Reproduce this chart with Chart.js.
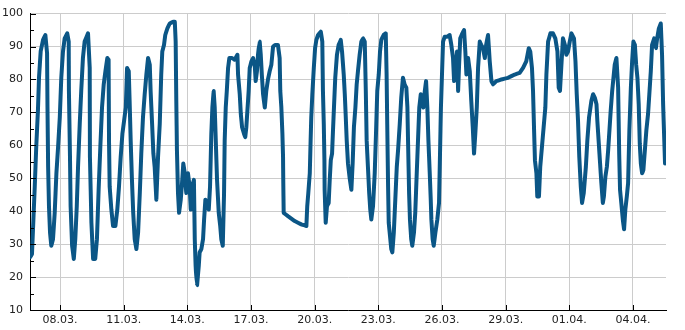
<!DOCTYPE html>
<html>
<head>
<meta charset="utf-8">
<script src="https://cdn.jsdelivr.net/npm/chart.js@4.4.1/dist/chart.umd.min.js"></script>
<style>
  body { margin: 0; background: #fff; }
  #wrap { width: 685px; height: 330px; }
</style>
</head>
<body>
<div id="wrap"><canvas id="grafico"></canvas></div>
<script>
// time in days of March (32 = 01.04.)
const days = [
  6.59, 6.68, 6.81, 6.88, 6.96, 7.01, 7.09, 7.20, 7.31, 7.39, 7.41, 7.44, 7.48, 7.53, 7.59, 7.67, 7.75, 7.83, 7.91, 7.99,
  8.06, 8.14, 8.22, 8.34, 8.41, 8.42, 8.47, 8.50, 8.57, 8.65, 8.72, 8.79, 8.85, 8.93, 9.00, 9.08, 9.16, 9.32, 9.40, 9.41,
  9.48, 9.56, 9.66, 9.74, 9.82, 9.90, 9.98, 10.06, 10.14, 10.23, 10.29, 10.31, 10.34, 10.42, 10.50, 10.61, 10.70, 10.78, 10.86, 10.94,
  11.02, 11.10, 11.16, 11.24, 11.28, 11.33, 11.39, 11.45, 11.52, 11.60, 11.68, 11.76, 11.83, 11.91, 11.99, 12.07, 12.15, 12.23, 12.27, 12.34,
  12.40, 12.46, 12.54, 12.62, 12.70, 12.77, 12.82, 12.90, 12.96, 13.06, 13.17, 13.33, 13.41, 13.45, 13.48, 13.51, 13.56, 13.61, 13.69, 13.75,
  13.81, 13.88, 13.95, 14.03, 14.11, 14.16, 14.22, 14.31, 14.35, 14.39, 14.46, 14.54, 14.58, 14.66, 14.74, 14.79, 14.85, 14.93, 15.01, 15.07,
  15.13, 15.18, 15.24, 15.29, 15.34, 15.40, 15.48, 15.55, 15.60, 15.67, 15.73, 15.76, 15.81, 15.86, 15.92, 15.98, 16.11, 16.23, 16.36, 16.39,
  16.47, 16.52, 16.58, 16.67, 16.73, 16.78, 16.83, 16.89, 16.94, 17.02, 17.10, 17.18, 17.22, 17.28, 17.33, 17.41, 17.46, 17.51, 17.57, 17.65,
  17.72, 17.80, 17.88, 17.96, 18.04, 18.15, 18.27, 18.35, 18.38, 18.43, 18.48, 18.51, 18.52, 18.54, 18.74, 19.06, 19.37, 19.61, 19.65, 19.70,
  19.77, 19.81, 19.84, 19.89, 19.96, 20.02, 20.08, 20.16, 20.29, 20.36, 20.39, 20.43, 20.46, 20.47, 20.52, 20.58, 20.66, 20.71, 20.76, 20.82,
  20.87, 20.91, 20.97, 21.05, 21.13, 21.23, 21.29, 21.37, 21.42, 21.46, 21.51, 21.57, 21.65, 21.73, 21.79, 21.85, 21.92, 21.98, 22.04, 22.12,
  22.20, 22.28, 22.36, 22.41, 22.45, 22.51, 22.57, 22.62, 22.67, 22.75, 22.83, 22.89, 22.95, 23.02, 23.08, 23.14, 23.25, 23.35, 23.39, 23.42,
  23.46, 23.49, 23.55, 23.61, 23.66, 23.73, 23.80, 23.87, 23.93, 24.01, 24.08, 24.16, 24.24, 24.32, 24.37, 24.40, 24.45, 24.49, 24.55, 24.60,
  24.68, 24.74, 24.81, 24.87, 24.93, 25.00, 25.06, 25.12, 25.19, 25.25, 25.31, 25.36, 25.42, 25.47, 25.50, 25.56, 25.61, 25.69, 25.78, 25.86,
  25.91, 25.95, 26.00, 26.05, 26.13, 26.25, 26.36, 26.44, 26.52, 26.57, 26.65, 26.71, 26.76, 26.80, 26.86, 26.96, 27.04, 27.10, 27.15, 27.23,
  27.31, 27.38, 27.45, 27.51, 27.57, 27.64, 27.70, 27.78, 27.85, 27.93, 28.02, 28.08, 28.17, 28.25, 28.33, 28.40, 28.56, 28.80, 29.11, 29.43,
  29.66, 29.82, 29.97, 30.09, 30.16, 30.24, 30.29, 30.34, 30.38, 30.45, 30.49, 30.57, 30.63, 30.71, 30.79, 30.87, 30.92, 31.00, 31.11, 31.23,
  31.34, 31.44, 31.50, 31.56, 31.62, 31.70, 31.79, 31.86, 31.94, 32.02, 32.10, 32.22, 32.29, 32.35, 32.41, 32.47, 32.54, 32.60, 32.68, 32.78,
  32.85, 32.93, 33.04, 33.12, 33.20, 33.28, 33.32, 33.39, 33.45, 33.51, 33.58, 33.63, 33.70, 33.77, 33.83, 33.89, 33.95, 34.02, 34.08, 34.14,
  34.22, 34.30, 34.35, 34.39, 34.45, 34.52, 34.58, 34.64, 34.71, 34.77, 34.83, 34.90, 34.96, 35.02, 35.09, 35.15, 35.21, 35.27, 35.32, 35.37,
  35.43, 35.49, 35.56, 35.63, 35.71, 35.77, 35.84, 35.90, 36.00, 36.08, 36.14, 36.22, 36.31, 36.37, 36.42, 36.47, 36.51
];
const humidity = [
  26, 27, 47.5, 59.5, 70.6, 80.5, 88.6, 92, 93.5, 88, 71.5, 53.5, 41.5, 33.5, 29.5, 31.5, 39.5, 51.5, 59.5, 68.5,
  80.5, 88.5, 92.5, 94, 91.5, 76.5, 56.5, 41.5, 29.5, 25.5, 31.5, 41.5, 53.5, 66.5, 76.5, 86.5, 91.5, 94, 83.5, 56.5,
  36.5, 25.5, 25.5, 31.5, 46.5, 59.5, 71.5, 78.5, 82.5, 86.5, 86, 61, 47.5, 40.5, 35.5, 35.5, 40.5, 47.5, 56.5, 63.5,
  67.5, 71.5, 83.5, 82.5, 73.5, 61.5, 49.5, 39.5, 31.5, 28.5, 33.5, 45.5, 57.5, 68.5, 75.5, 81.5, 86.5, 84.5, 76.5, 66.5,
  57.5, 53.5, 43.5, 56.5, 66.5, 81.5, 88.5, 90.5, 93.5, 95.5, 97, 97.5, 97.5, 91.5, 73.5, 58.5, 45.5, 39.5, 43.5, 48.5,
  54.5, 51.5, 45.5, 51.5, 47.5, 40.5, 47.5, 49.5, 31.5, 23.5, 17.5, 23.5, 27.5, 28.5, 31.5, 37.5, 43.5, 42.5, 40.5, 47.5,
  63.5, 71.5, 76.5, 71.5, 61.5, 49.5, 39.5, 35.5, 31.5, 29.5, 45.5, 61.5, 71.5, 76.5, 83.5, 86.5, 86.5, 86, 87.5, 81.5,
  75.5, 69.5, 65.5, 63.5, 62.5, 65.5, 70.5, 76.5, 83.5, 85.5, 86.5, 84, 79.5, 82.5, 87.5, 91.5, 87.5, 81.5, 75.5, 71.5,
  76.5, 80, 82.5, 84.5, 90, 90.5, 90.5, 86.5, 76.5, 71.5, 63.5, 56.5, 49.5, 39.5, 38.5, 37, 36, 35.5, 41.5, 45.5,
  51.5, 61.5, 68.5, 75.5, 83.5, 89.5, 92, 93.5, 94.5, 91.5, 76.5, 66.5, 55.5, 46.5, 36.5, 41.5, 42.5, 49.5, 55.5, 57.5,
  65.5, 71.5, 80.5, 87.5, 90.5, 92, 88.5, 81.5, 75.5, 69.5, 61.5, 54.5, 50, 46.5, 54.5, 65.5, 71.5, 78.5, 82.5, 87.5,
  91.5, 92.5, 91.5, 76.5, 61.5, 53.5, 45.5, 40.5, 37.5, 41.5, 51.5, 63.5, 76.5, 81.5, 88.5, 92, 93.5, 94, 81.5, 66.5,
  47.5, 36.5, 32.5, 28.5, 27.5, 33.5, 43.5, 53.5, 58.5, 66.5, 74.5, 80.5, 78.5, 77.5, 71.5, 61.5, 45.5, 37.5, 31.5, 29.5,
  33.5, 39.5, 51.5, 61.5, 71.5, 75.5, 72.5, 71.5, 76.5, 79.5, 71.5, 61.5, 52, 43.5, 37.5, 31.5, 29.5, 33.5, 37.5, 42.5,
  58.5, 71.5, 81.5, 91.5, 93, 93, 93.5, 90.5, 86.5, 79.5, 83.5, 88.5, 76.5, 83.5, 92.5, 94, 95, 88.5, 81.5, 86.5,
  82.5, 73.5, 65.5, 57.5, 63.5, 71.5, 83.5, 91.5, 90.5, 89.5, 86.5, 90.5, 93.5, 85.5, 79.5, 78.5, 79.5, 80, 80.5, 81.5,
  82, 83.5, 85.5, 89.5, 88.5, 83.5, 76.5, 64.5, 55.5, 51.5, 44.5, 44.5, 53.5, 59.5, 65.5, 71.5, 81.5, 91.5, 94, 94,
  92.5, 88.5, 77.5, 76.5, 83.5, 92.5, 90.5, 87.5, 88.5, 91.5, 94, 92.5, 85.5, 75.5, 67.5, 56.5, 47.5, 42.5, 45.5, 53.5,
  61.5, 68.5, 73.5, 75.5, 74.5, 72.5, 67.5, 60.5, 54.5, 48.5, 42.5, 44.5, 50.5, 53.5, 58.5, 64.5, 70.5, 76.5, 80.5, 84.5,
  86.5, 77.5, 57.5, 46.5, 42.5, 37.5, 34.5, 40.5, 44.5, 48.5, 64.5, 77.5, 85.5, 91.5, 90.5, 84.5, 80.5, 72.5, 60.5, 54.5,
  51.5, 52.5, 58.5, 64.5, 69.5, 75.5, 82.5, 90.5, 92.5, 89.5, 92.5, 95.5, 97, 87.5, 72.5, 62.5, 54.5
];
const tickDays = [8, 11, 14, 17, 20, 23, 26, 29, 32, 35];
const tickLabels = ['08.03.', '11.03.', '14.03.', '17.03.', '20.03.', '23.03.', '26.03.', '29.03.', '01.04.', '04.04.'];

const puntos = days.map((d, i) => ({ x: d, y: humidity[i] }));

// marcas de escala hacia dentro, negras
const marcasInternas = {
    id: 'marcasInternas',
    afterDraw(chart) {
        const { ctx, chartArea, scales } = chart;
        ctx.save();
        ctx.strokeStyle = '#000';
        ctx.lineWidth = 1;
        ctx.beginPath();
        tickDays.forEach(d => {
            const px = Math.round(scales.x.getPixelForValue(d)) + 0.5;
            ctx.moveTo(px, chartArea.bottom);
            ctx.lineTo(px, chartArea.bottom - 5);
        });
        for (let v = 15; v <= 100; v += 5) {
            const py = Math.round(scales.y.getPixelForValue(v)) + 0.5;
            ctx.moveTo(chartArea.left, py);
            ctx.lineTo(chartArea.left + (v % 10 === 0 ? 6 : 4), py);
        }
        ctx.stroke();
        ctx.restore();
    }
};

new Chart(document.getElementById('grafico').getContext('2d'), {
    type: 'line',
    data: {
        datasets: [{
            data: puntos,
            borderColor: '#0b5686',
            borderWidth: 4,
            borderJoinStyle: 'round',
            borderCapStyle: 'round',
            pointRadius: 0,
            tension: 0.0001,   // evita el "fast path" que adelgaza los tramos verticales
            fill: false
        }]
    },
    options: {
        responsive: true,
        maintainAspectRatio: false,
        animation: false,
        layout: { padding: { top: 10, right: 19, left: 0, bottom: 0 } },
        plugins: { legend: { display: false }, tooltip: { enabled: false } },
        scales: {
            x: {
                type: 'linear',
                min: 6.586,
                max: 36.556,
                afterBuildTicks: s => { s.ticks = tickDays.map(v => ({ value: v })); },
                afterFit: s => { s.height = 20; },
                grid: { color: '#cccccc', drawTicks: false },
                border: { display: true, color: '#000', width: 1 },
                ticks: {
                    padding: 4,
                    autoSkip: false,
                    maxRotation: 0,
                    color: '#222',
                    font: { family: 'DejaVu Sans', size: 11 },
                    callback: (v, i) => tickLabels[i]
                }
            },
            y: {
                min: 10,
                max: 100,
                afterFit: s => { s.width = 30; },
                grid: {
                    color: c => (c.tick && c.tick.value % 10 === 0) ? '#cccccc' : 'rgba(0,0,0,0)',
                    drawTicks: false
                },
                border: { display: true, color: '#000', width: 1 },
                ticks: {
                    stepSize: 5,
                    padding: 7,
                    autoSkip: false,
                    color: '#222',
                    font: { family: 'DejaVu Sans', size: 11 },
                    callback: v => v % 10 === 0 ? v : ''
                }
            }
        }
    },
    plugins: [marcasInternas]
});
</script>
</body>
</html>
